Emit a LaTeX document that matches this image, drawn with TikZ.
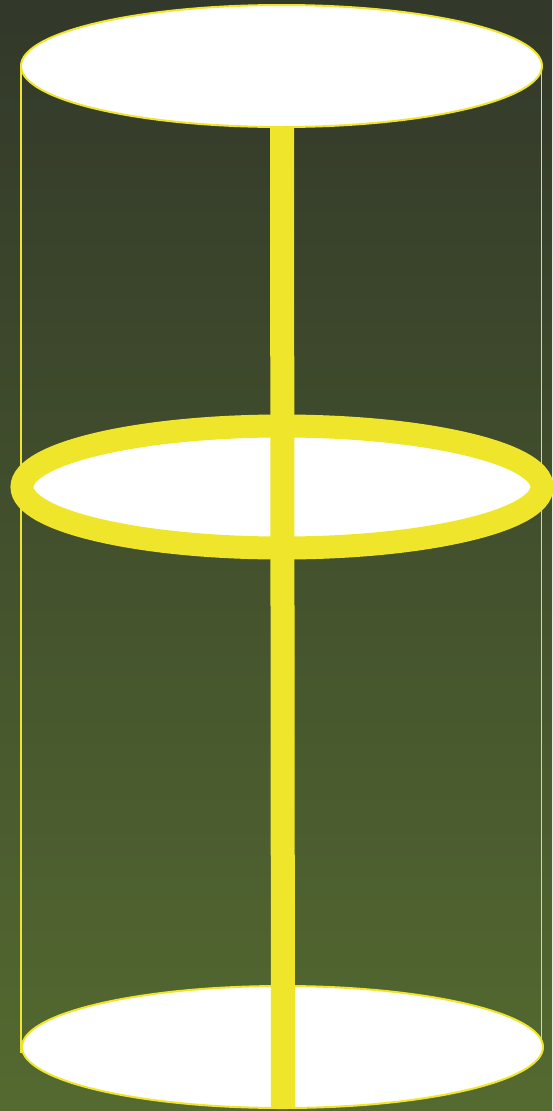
\documentclass[tikz,border=0pt]{standalone}
\usepackage{tikz}
\usetikzlibrary{positioning}
\definecolor{bgtop}{RGB}{50,56,42}
\definecolor{bgbottom}{RGB}{84,106,48}
\definecolor{lemon}{RGB}{239,230,43}

\begin{document}
\begin{tikzpicture}[
  x=1pt,y=-1pt,
  disk/.style={fill=white,draw=lemon,line width=2pt},
  ring/.style={fill=white,draw=lemon,line width=23pt},
  side/.style={draw=lemon,line width=1.8pt},
  axis/.style={draw=lemon,line width=24pt}
]

% 背景
\shade[top color=bgtop,bottom color=bgbottom] (0,0) rectangle (552,1111);
\useasboundingbox (0,0) rectangle (552,1111);

% 円柱の側面
\draw[side] (21,66)--(21,1053);
\draw[side] (541.5,66)--(541.5,1044);

% 底面
\path[disk] (282.5,1047) ellipse [x radius=260.5,y radius=61];

% 中間の輪
\path[ring] (282,487) ellipse [x radius=260,y radius=61];

% 中心軸
\draw[axis] (282,110)--(283,1108);

% 上面
\path[disk] (281.5,66) ellipse [x radius=260.5,y radius=61];

\end{tikzpicture}
\end{document}
